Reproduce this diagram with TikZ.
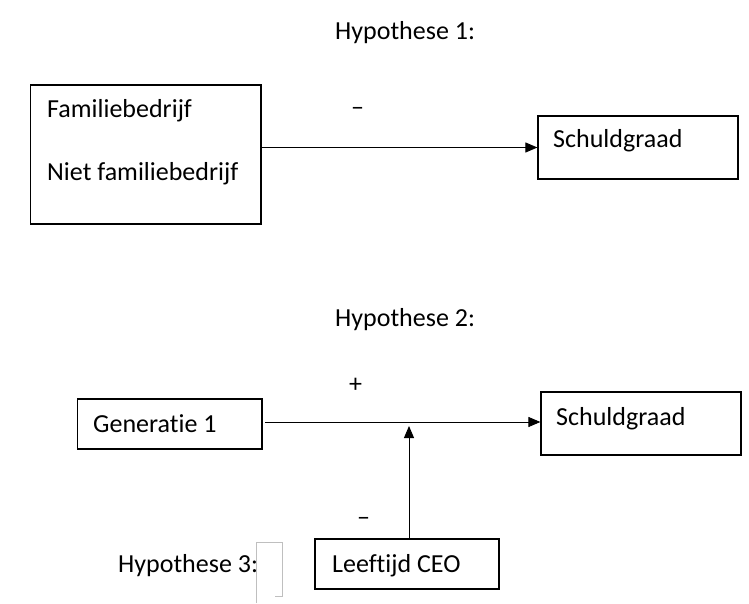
\documentclass[tikz,border=0pt]{standalone}
\usepackage{fontspec}
\setmainfont[Ligatures=NoCommon]{Carlito}
\usetikzlibrary{arrows.meta}
\begin{document}
\begin{tikzpicture}[x=1pt,y=-1pt,
  box/.style={draw, line width=1.2pt, inner sep=0pt},
  lbl/.style={font=\fontsize{26}{31}\selectfont, inner sep=0pt, anchor=base west},
  arr/.style={-{Triangle[length=12pt,width=10pt]}, line width=0.9pt}]
\useasboundingbox[fill=white] (0,0) rectangle (749,603);
% Hypothese 1
\node[lbl] (h1) at (335,39) {Hypothese 1:};
\node[box, minimum width=230.5pt, minimum height=139pt] (fam) at (145.75,154.5) {};
\node[lbl] (t1) at (47,117) {Familiebedrijf};
\node[lbl] (t2) at (47,180) {Niet familiebedrijf};
\node[box, minimum width=200pt, minimum height=63pt] (s1) at (638,147.5) {};
\node[lbl] (s1t) at (553,147) {Schuldgraad};
\draw[arr] (fam.east |- s1.west) -- (s1.west);
\node[lbl] (min1) at (351,115) {–};
% Hypothese 2
\node[lbl] (h2) at (335,326) {Hypothese 2:};
\node[box, minimum width=184.5pt, minimum height=50pt] (g1) at (169.75,424) {};
\node[lbl] (g1t) at (93,432) {Generatie 1};
\node[box, minimum width=200pt, minimum height=63pt] (s2) at (641,423.5) {};
\node[lbl] (s2t) at (556,425) {Schuldgraad};
\coordinate (a0) at (265,422);
\draw[arr] (a0) -- (a0 -| s2.west);
\node[lbl] (plus) at (349,392) {+};
% Hypothese 3
\node[box, minimum width=184pt, minimum height=50pt] (ceo) at (407,564) {};
\node[lbl] (ceot) at (332,572) {Leeftijd CEO};
\coordinate (mid) at (409,426);
\draw[arr] (ceo.north -| mid) -- (mid);
\node[lbl] (min2) at (357,525) {–};
\node[lbl] (h3) at (118,572) {Hypothese 3:};
\draw[black!25, line width=0.5pt] (256,603) -- (256,542) -- (282,542) -- (282,596) -- (275,596);
\end{tikzpicture}
\end{document}
